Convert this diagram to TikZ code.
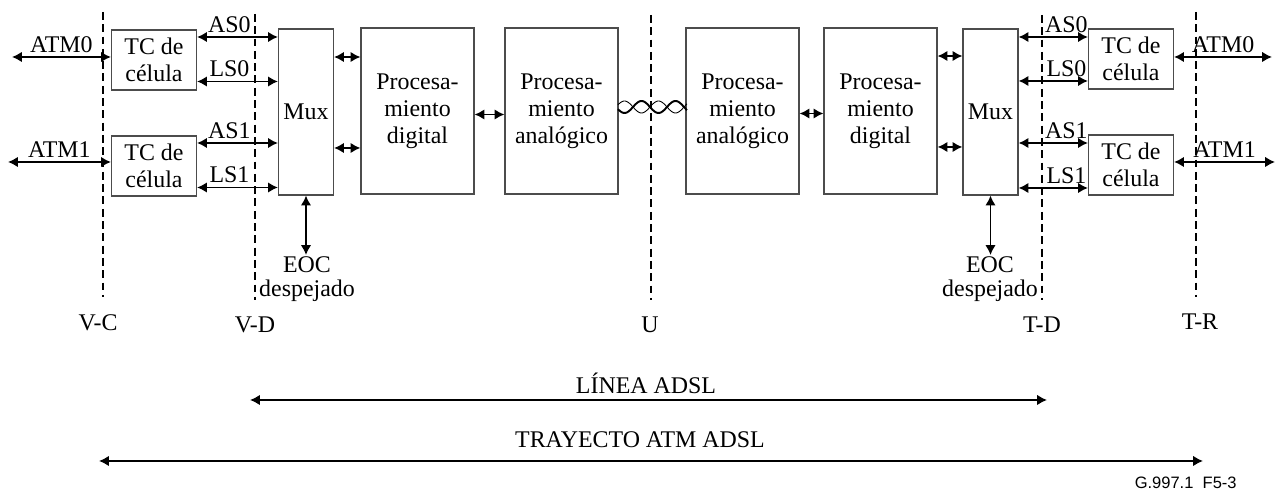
\documentclass[tikz,border=0pt]{standalone}
\usepackage{fontspec}
\setmainfont{Liberation Serif}
\newfontfamily\figfont{Liberation Sans}
\usepackage{tikz}
\usetikzlibrary{arrows.meta}

\begin{document}
\begin{tikzpicture}[x=0.02cm, y=-0.02cm,
    font=\fontsize{13.6}{15.3}\selectfont,
    block/.style={draw=black!70, line width=0.7pt, align=center, inner sep=1pt},
    tcbox/.style={block, minimum width=1.7cm, minimum height=1.2cm},
    muxbox/.style={block, minimum width=1.1cm, minimum height=3.32cm},
    procbox/.style={block, minimum width=2.26cm, minimum height=3.32cm},
    link/.style={{Latex[length=5.6pt,width=6pt]}-{Latex[length=5.6pt,width=6pt]}, line width=1pt},
    refline/.style={dash pattern=on 4.5pt off 2.5pt, line width=0.75pt},
    lbl/.style={above, inner sep=2pt}
  ]
  \useasboundingbox (0,0) rectangle (1279,499);

  % Reference points (dashed)
  \draw[refline] (103,12) -- (103,297);
  \draw[refline] (255,14) -- (255,300);
  \draw[refline] (651,15) -- (651,300);
  \draw[refline] (1042,15) -- (1042,300);
  \draw[refline] (1196,12) -- (1196,297);
  \node (vc) at (98,323) {V-C};
  \node (vd) at (255,325) {V-D};
  \node (u) at (650,325) {U};
  \node (td) at (1042,325) {T-D};
  \node (tr) at (1200,322) {T-R};

  % Left side blocks
  \node[tcbox] (tcL0) at (154,60) {TC de\\célula};
  \node[tcbox] (tcL1) at (154,166) {TC de\\célula};
  \node[muxbox] (muxL) at (306,112) {Mux};
  \node[procbox] (dL) at (417.5,111) {Procesa-\\miento\\digital};
  \node[procbox] (aL) at (561.5,111) {Procesa-\\miento\\analógico};

  % Right side blocks
  \node[procbox] (aR) at (742.5,111) {Procesa-\\miento\\analógico};
  \node[procbox] (dR) at (880.5,111) {Procesa-\\miento\\digital};
  \node[muxbox] (muxR) at (990.5,112) {Mux};
  \node[tcbox] (tcR0) at (1131,59) {TC de\\célula};
  \node[tcbox] (tcR1) at (1131,165) {TC de\\célula};

  % ATM interfaces
  \coordinate (atmL0) at (12,57);
  \coordinate (atmL1) at (8,162);
  \coordinate (atmR0) at (1272,57);
  \coordinate (atmR1) at (1275,162);
  \draw[link] (atmL0) -- node[lbl] {ATM0} (atmL0 -| tcL0.west);
  \draw[link] (atmL1) -- node[lbl] {ATM1} (atmL1 -| tcL1.west);
  \draw[link] (atmR0 -| tcR0.east) -- node[lbl] {ATM0} (atmR0);
  \draw[link] (atmR1 -| tcR1.east) -- node[lbl] {ATM1} (atmR1);

  % TC <-> Mux (left)
  \draw[link] ([yshift=0.46cm]tcL0.east) -- node[lbl, pos=0.4] {AS0} ([yshift=0.46cm]tcL0.east -| muxL.west);
  \draw[link] ([yshift=-0.43cm]tcL0.east) -- node[lbl, pos=0.4] {LS0} ([yshift=-0.43cm]tcL0.east -| muxL.west);
  \draw[link] ([yshift=0.46cm]tcL1.east) -- node[lbl, pos=0.4] {AS1} ([yshift=0.46cm]tcL1.east -| muxL.west);
  \draw[link] ([yshift=-0.43cm]tcL1.east) -- node[lbl, pos=0.4] {LS1} ([yshift=-0.43cm]tcL1.east -| muxL.west);

  % Mux <-> TC (right)
  \draw[link] ([yshift=0.44cm]tcR0.west -| muxR.east) -- node[lbl, pos=0.69] {AS0} ([yshift=0.44cm]tcR0.west);
  \draw[link] ([yshift=-0.44cm]tcR0.west -| muxR.east) -- node[lbl, pos=0.69] {LS0} ([yshift=-0.44cm]tcR0.west);
  \draw[link] ([yshift=0.44cm]tcR1.west -| muxR.east) -- node[lbl, pos=0.69] {AS1} ([yshift=0.44cm]tcR1.west);
  \draw[link] ([yshift=-0.46cm]tcR1.west -| muxR.east) -- node[lbl, pos=0.69] {LS1} ([yshift=-0.46cm]tcR1.west);

  % Mux <-> digital <-> analog
  \draw[link] ([yshift=1.1cm]muxL.east) -- ([yshift=1.1cm]muxL.east -| dL.west);
  \draw[link] ([yshift=-0.72cm]muxL.east) -- ([yshift=-0.72cm]muxL.east -| dL.west);
  \draw[link] ([yshift=-0.07cm]dL.east) -- ([yshift=-0.07cm]dL.east -| aL.west);
  \draw[link] ([yshift=-0.05cm]aR.east) -- ([yshift=-0.05cm]aR.east -| dR.west);
  \draw[link] ([yshift=1.1cm]dR.east) -- ([yshift=1.1cm]dR.east -| muxR.west);
  \draw[link] ([yshift=-0.72cm]dR.east) -- ([yshift=-0.72cm]dR.east -| muxR.west);

  % Twisted pair (U interface)
  \draw[line width=0.5pt] plot[domain=618:687, samples=60] (\x, {107+6*sin(180*(\x-633)/17)});
  \draw[line width=1.1pt] plot[domain=618:687, samples=60] (\x, {107-6*sin(180*(\x-633)/17)});

  % Clear EOC
  \node[anchor=north, inner sep=1pt, align=center] (eocL) at (307,255) {EOC\\[-2pt]despejado};
  \node[anchor=north, inner sep=1pt, align=center] (eocR) at (990,255) {EOC\\[-2pt]despejado};
  \draw[link] (muxL.south) -- (muxL.south |- eocL.north);
  \draw[link] (muxR.south) -- (muxR.south |- eocR.north);

  % Spans
  \node (linea) at (646,383) {LÍNEA ADSL};
  \coordinate (lineaA) at (250,400);
  \coordinate (lineaB) at (1047,400);
  \draw[link] (lineaA) -- (lineaB);
  \node (trayecto) at (640,440) {TRAYECTO ATM ADSL};
  \coordinate (trayA) at (99,461);
  \coordinate (trayB) at (1203,461);
  \draw[link] (trayA) -- (trayB);

  \node[anchor=east, inner sep=0pt, font=\figfont\fontsize{9.4}{11}\selectfont] (figref) at (1237,483) {G.997.1\ \ F5-3};
\end{tikzpicture}
\end{document}
